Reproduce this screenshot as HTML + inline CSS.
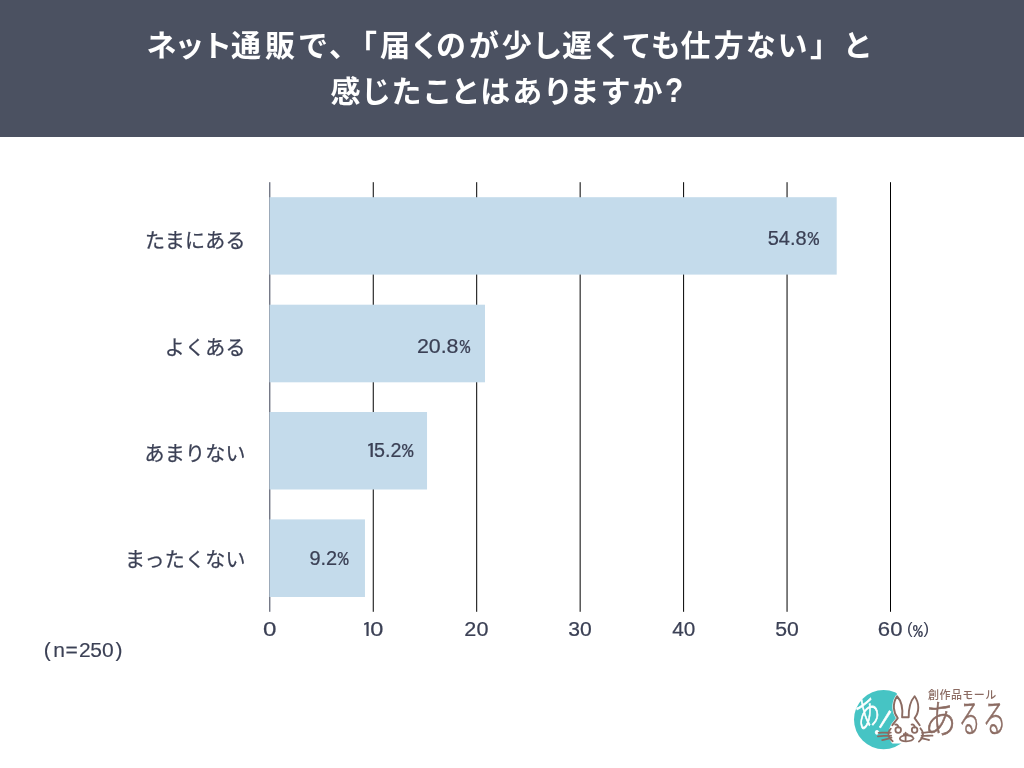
<!DOCTYPE html>
<html lang="ja">
<head>
<meta charset="utf-8">
<title>ネット通販で、「届くのが少し遅くても仕方ない」と感じたことはありますか?</title>
<style>
html,body{margin:0;padding:0;background:#fff;}
body{width:1024px;height:768px;overflow:hidden;position:relative;font-family:"Liberation Sans","Noto Sans CJK JP",sans-serif;}
svg{position:absolute;left:0;top:0;display:block;}
text{font-family:"Liberation Sans","Noto Sans CJK JP",sans-serif;}
.title{font-weight:700;font-size:30px;fill:#fff;text-spacing-trim:space-all;}
.cat{font-weight:400;font-size:20px;letter-spacing:0.25px;fill:#3b4055;stroke:#3b4055;stroke-width:0.25px;text-anchor:end;}
.num{font-weight:400;font-size:21px;fill:#3b4055;stroke:#3b4055;stroke-width:0.22px;}
.pct{font-family:"Liberation Mono","Liberation Sans",monospace;font-weight:400;font-size:21px;fill:#3b4055;stroke:#3b4055;stroke-width:0.22px;}
.one{font-family:"IPAGothic","Liberation Sans",sans-serif;font-size:20px;}
.brown{fill:#8b6b62;}
</style>
</head>
<body>
<svg width="1024" height="768" viewBox="0 0 1024 768">
<rect x="0" y="0" width="1024" height="137" fill="#4b5161"/>
<text class="title" x="146.5 174.5 202.0 230.9 264.9 298.0 329.1 347.1 379.9 409.8 436.1 468.9 501.8 532.2 562.1 591.8 621.6 650.7 680.6 713.8 745.8 777.4 809.9 842.7" y="56.3">ネット通販で、「届くのが少し遅くても仕方ない」と</text>
<text class="title" x="330.4 361.0 391.4 422.3 450.4 480.2 512.3 542.9 569.6 600.5 632.6" y="101.5">感じたことはありますか</text><text class="title" transform="translate(665,102) scale(0.85,1)" style="font-size:35px">?</text>

<g stroke="#000" stroke-width="1">
<line x1="373.25" y1="182.2" x2="373.25" y2="611.8"/>
<line x1="476.70" y1="182.2" x2="476.70" y2="611.8"/>
<line x1="580.15" y1="182.2" x2="580.15" y2="611.8"/>
<line x1="683.60" y1="182.2" x2="683.60" y2="611.8"/>
<line x1="787.05" y1="182.2" x2="787.05" y2="611.8"/>
<line x1="890.50" y1="182.2" x2="890.50" y2="611.8"/>
</g>
<line x1="269.80" y1="182.2" x2="269.80" y2="611.8" stroke="#3b4055" stroke-width="1"/>
<g fill="#c4dbeb">
<rect x="269.50" y="197.20" width="567.21" height="77.40"/>
<rect x="269.50" y="304.70" width="215.48" height="77.60"/>
<rect x="269.50" y="412.00" width="157.54" height="77.50"/>
<rect x="269.50" y="519.40" width="95.47" height="77.60"/>
</g>
<text class="cat" x="245.7" y="248.0">たまにある</text>
<text class="cat" x="245.7" y="355.0">よくある</text>
<text class="cat" x="245.7" y="461.0">あまりない</text>
<text class="cat" x="245.7" y="567.0">まったくない</text>
<text class="num" transform="translate(767.69,245.10) scale(0.953,1)">54.8</text><text class="pct" transform="translate(807.82,245.10) scale(0.892,1)">%</text>
<text class="num" transform="translate(416.88,353.20) scale(1.018,1)">20.8</text><text class="pct" transform="translate(459.81,353.20) scale(0.823,1)">%</text>
<text class="num one" transform="translate(365.56,458.00) scale(1.175,1)">1</text><text class="num" transform="translate(374.00,457.00) scale(0.938,1)">5.2</text><text class="pct" transform="translate(402.12,457.00) scale(0.900,1)">%</text>
<text class="num" transform="translate(309.39,565.00) scale(0.949,1)">9.2</text><text class="pct" transform="translate(337.81,565.00) scale(0.854,1)">%</text>
<text class="num" transform="translate(263.04,636.30) scale(1.151,1)">0</text>
<text class="num one" transform="translate(361.61,637.30) scale(1.150,1)">1</text><text class="num" transform="translate(370.16,636.30) scale(1.122,1)">0</text>
<text class="num" transform="translate(464.37,636.30) scale(1.030,1)">20</text>
<text class="num" transform="translate(568.25,636.30) scale(1.005,1)">30</text>
<text class="num" transform="translate(672.25,636.30) scale(0.987,1)">40</text>
<text class="num" transform="translate(775.14,636.30) scale(1.009,1)">50</text>
<text class="num" transform="translate(877.85,636.30) scale(1.053,1)">60</text>
<text class="num" x="906.9" y="634" style="font-size:16.7px;stroke-width:0">(</text><text class="pct" transform="translate(912.9,636.6) scale(0.86,1)" style="font-size:19px;font-weight:700;stroke-width:0">%</text><text class="num" x="923.6" y="634" style="font-size:16.7px;stroke-width:0">)</text>
<text class="num" x="43.8 53.3 65.5 78.9 90.2 102.1 115.4" y="657.4" style="stroke-width:0.15px">(n=250)</text>
<g id="logo">
<circle cx="883.6" cy="719.6" r="29.6" fill="#46c4c4"/>
<path fill="#fff" d="M896 684 L897 696.250 C892 704 893.500 713 897.800 718.100 L892.300 725.200 C889.500 730 889.500 738 893 742 L899 743 L925 743 L925 684 Z"/>
<g fill="#fff" stroke="#fff" stroke-width="3" stroke-linejoin="round">
<path d="M897.800 718.100 C893.500 713 892 704 897 696.250 C901.500 701 903 709 902.100 717.300 L908.700 717.300 C908.500 708 910.500 701 914.600 696.250 C919.500 703 919.500 712 914.600 718.100 L919.700 725.200 C923 729 923 738 918.900 742 L893 742 C889.500 738 889.500 730 892.300 725.200 Z"/>
</g>
<text x="0" y="0" transform="translate(859.82,732.18) scale(0.84,1.22) rotate(-24)" style="font-weight:300;font-size:29.5px;fill:#fff;stroke:#fff;stroke-width:0.6px" vector-effect="non-scaling-stroke">あ</text><text x="0" y="0" transform="translate(871.85,730.8) rotate(32)" style="font-family:'Noto Sans CJK JP','Liberation Sans',sans-serif;font-weight:300;font-size:35.5px;fill:#fff;stroke:#fff;stroke-width:0.5px">!</text>
<g fill="none" stroke="#8b6b62" stroke-width="1.9" stroke-linejoin="round" stroke-linecap="round">
<path d="M892.300 725.200 L897.800 718.100 C893.500 713 892 704 897 696.250 C901.500 701 903 709 902.100 717.300 L908.700 717.300 C908.500 708 910.500 701 914.600 696.250 C919.500 703 919.500 712 914.600 718.100 L919.700 725.200"/>
</g>
<g fill="none" stroke="#8b6b62" stroke-width="1.8" stroke-linecap="round" stroke-linejoin="round">
<circle cx="898.2" cy="730" r="2.8"/>
<circle cx="914.6" cy="730" r="2.8"/>
<path d="M895.200 724.600 C897 724.200 898.500 725.500 898.300 727.500"/>
<path d="M911.600 724.600 C913.400 724.200 914.900 725.500 914.700 727.500"/>
<path d="M905.600 732.600 L905.600 740.300 M903.800 734.200 L907.600 734.200"/>
<path d="M912.800 737.200 C910.500 734.200 900.500 734.800 899.800 738.600 C899.800 742.300 912.300 742.200 913.600 738.300"/>
<path d="M878.600 732.800 C883 732 887 733.200 890.800 732.600 M877.900 736.300 C882 735.500 887 736.300 891.100 735.700 M882.200 740.200 C885 739.800 888.500 738.500 891.500 737.700"/>
<path d="M890.800 728.700 C887.500 732 887.500 737.500 892.700 741.200"/>
<path d="M922 732.800 C925 732.800 928 732.200 931 731.800 M921.600 735.700 C925 736.200 929 735.500 932.500 735.700 M921.200 738 C924 738.500 926.500 739.500 929 740"/>
<path d="M920.400 728.300 C924 732 924 737.500 918.900 741.600"/>
</g>
<text class="brown" x="928" y="699" style="font-weight:500;font-size:11px;letter-spacing:0.45px">創作品モール</text>
<text class="brown" transform="translate(924.45,733.10) scale(1.062,1.293)" style="font-weight:300;font-size:30px;stroke:#8b6b62;stroke-width:0.55px" vector-effect="non-scaling-stroke">あ</text><text class="brown" transform="translate(958.70,732.35) scale(0.724,1.291)" style="font-weight:300;font-size:30px;stroke:#8b6b62;stroke-width:0.55px" vector-effect="non-scaling-stroke">る</text><text class="brown" transform="translate(982.83,732.47) scale(0.780,1.291)" style="font-weight:300;font-size:30px;stroke:#8b6b62;stroke-width:0.55px" vector-effect="non-scaling-stroke">る</text>
</g>

</svg>
</body>
</html>
